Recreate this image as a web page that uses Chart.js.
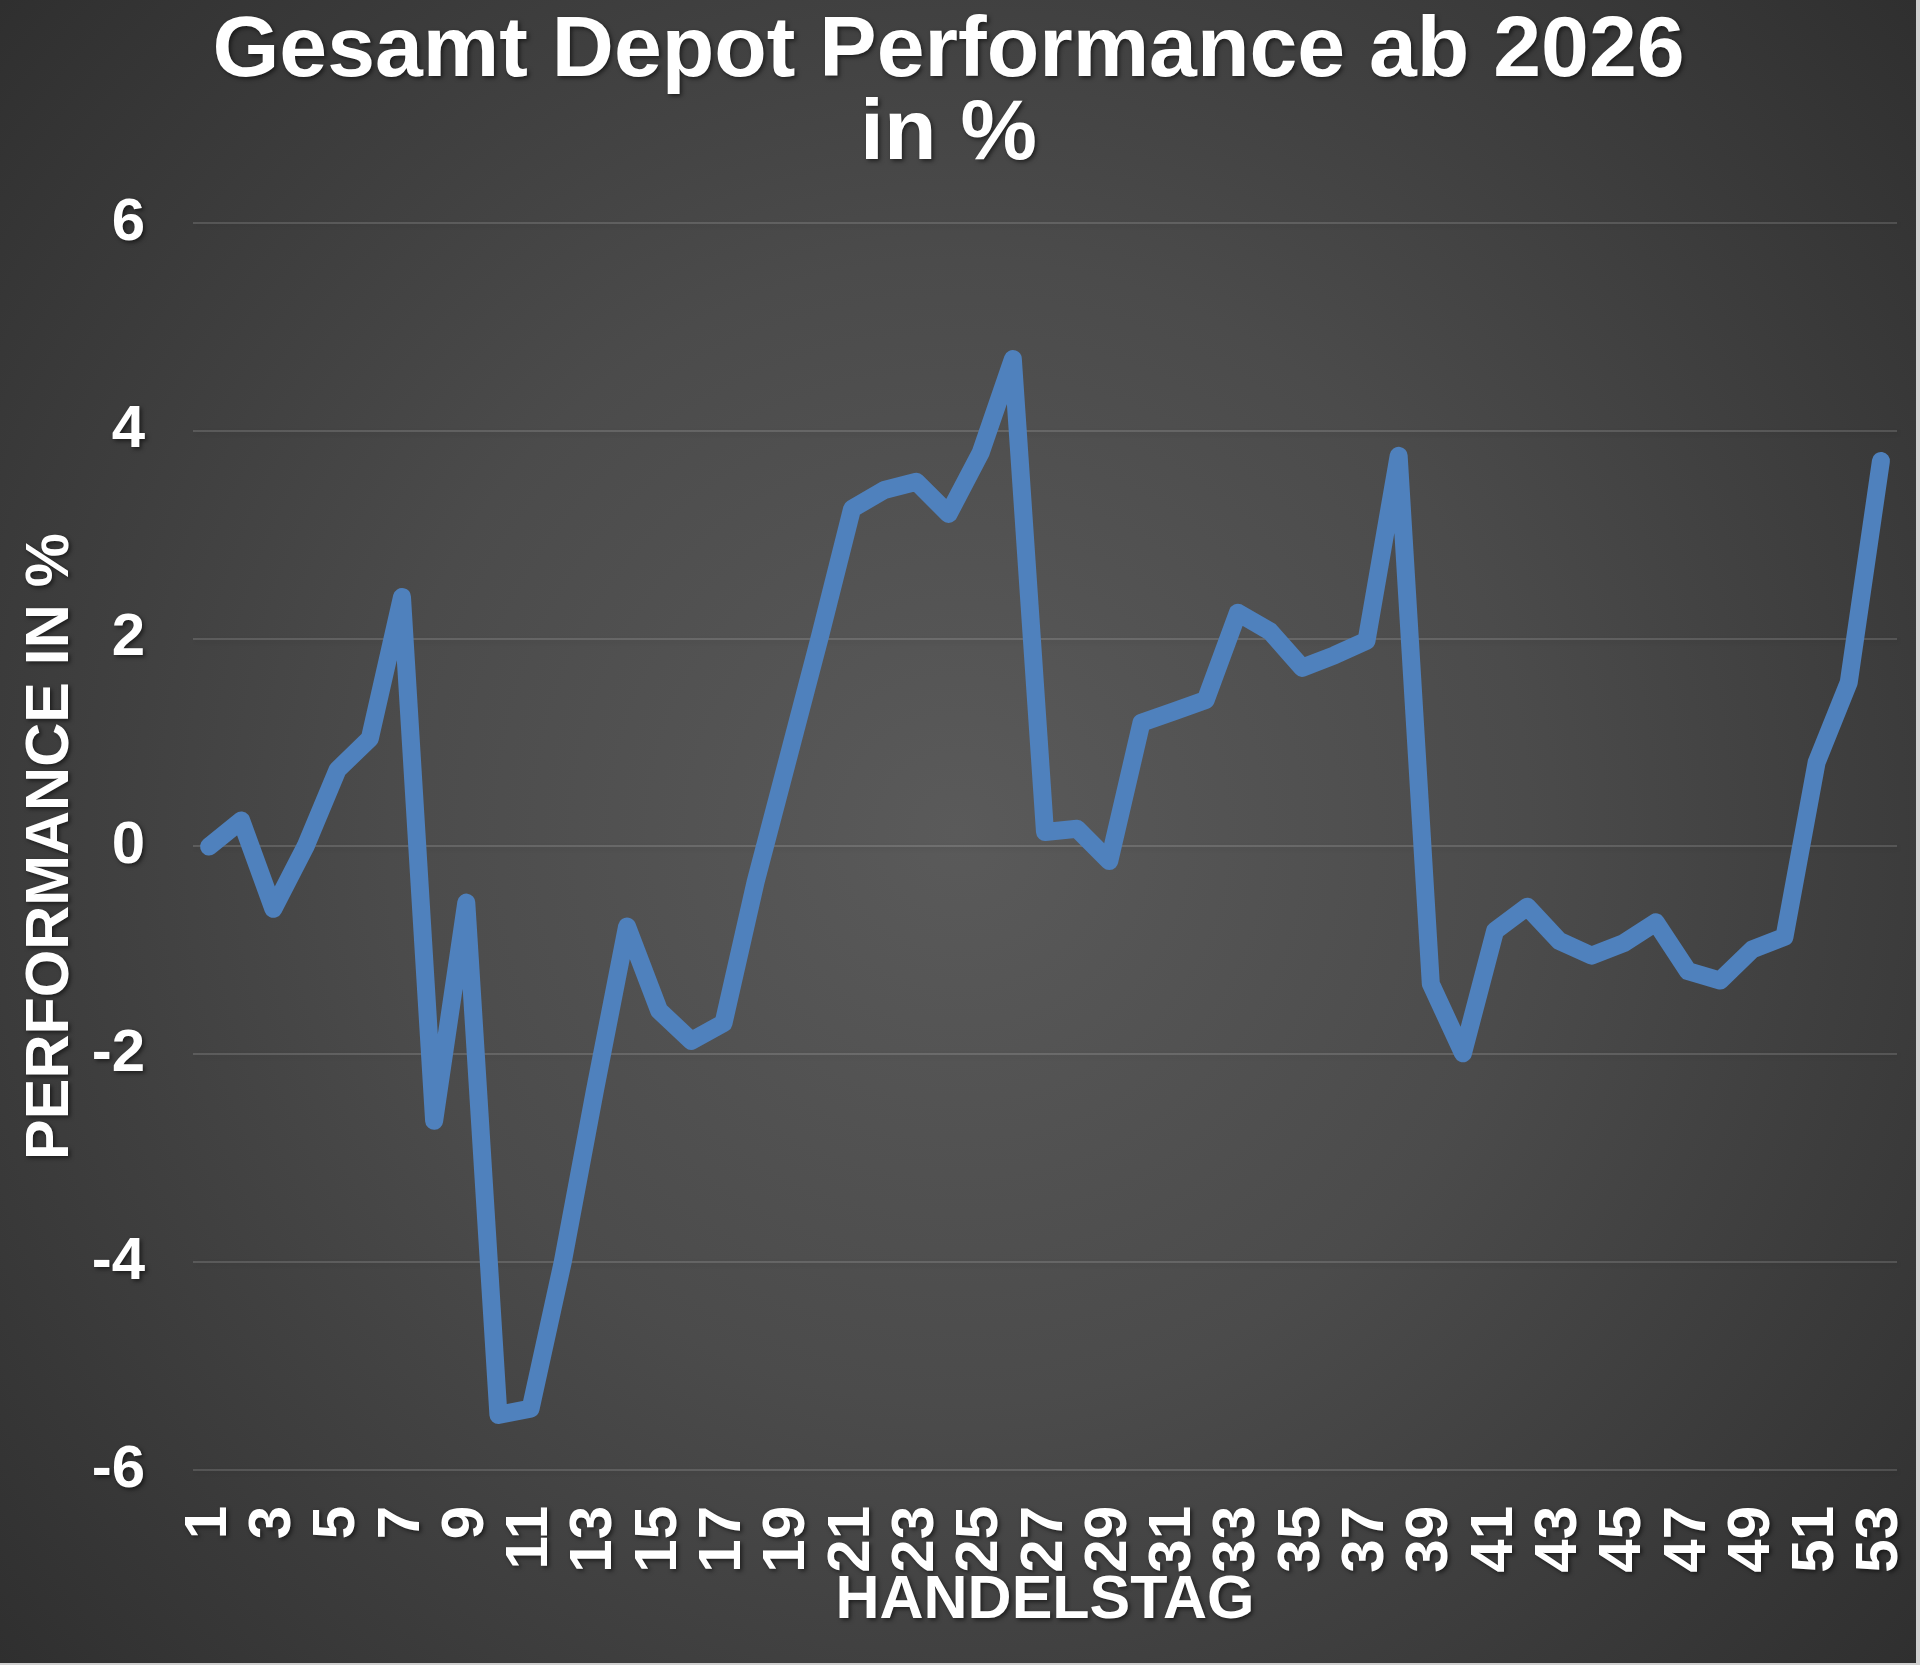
<!DOCTYPE html>
<html>
<head>
<meta charset="utf-8">
<script src="https://cdn.jsdelivr.net/npm/chart.js@4/dist/chart.umd.min.js"></script>
<style>
  html, body { margin: 0; padding: 0; }
  body { width: 1920px; height: 1665px; background: #d0d0d0; position: relative; overflow: hidden; }
  #hg {
    position: absolute; left: 0; top: 0; width: 1916px; height: 1663px;
    background: radial-gradient(circle farthest-corner at 50% 50%, #5a5a5a 0%, #4b4b4b 45%, #2f2f2f 100%);
  }
  #wrap { position: absolute; left: 0; top: 0; width: 1920px; height: 1665px; }
</style>
</head>
<body>
<div id="hg"></div>
<div id="wrap"><canvas id="chart"></canvas></div>
<script>
// Handelstage 1..53
var tage = [
  '1','2','3','4','5','6','7','8','9','10',
  '11','12','13','14','15','16','17','18','19','20',
  '21','22','23','24','25','26','27','28','29','30',
  '31','32','33','34','35','36','37','38','39','40',
  '41','42','43','44','45','46','47','48','49','50',
  '51','52','53'
];

// Gesamt Depot Performance in %
var performance = [
  0.0, 0.25, -0.6, 0.0, 0.74, 1.04, 2.4, -2.64, -0.54, -5.47,
  -5.41, -4.0, -2.35, -0.77, -1.58, -1.87, -1.70, -0.34, 0.84, 2.02,
  3.25, 3.43, 3.51, 3.2, 3.79, 4.69, 0.14, 0.17, -0.14, 1.19,
  1.3, 1.41, 2.25, 2.07, 1.72, 1.84, 1.98, 3.76, -1.32, -1.99,
  -0.81, -0.58, -0.91, -1.05, -0.93, -0.73, -1.20, -1.29, -0.99, -0.87,
  0.81, 1.58, 3.71
];

var yMin = -6, yMax = 6, yStep = 2;

var schrift = '"Liberation Sans", Arial, Helvetica, sans-serif';

// Schatten fuer Texte (vor den Daten)
var schatten = {
  id: 'schatten',
  beforeDraw: function(chart) {
    var ctx = chart.ctx;
    ctx.shadowColor = 'rgba(0,0,0,0.55)';
    ctx.shadowBlur = 4;
    ctx.shadowOffsetX = 2;
    ctx.shadowOffsetY = 2;
  },
  beforeDatasetsDraw: function(chart) {
    var ctx = chart.ctx;
    ctx.shadowColor = 'rgba(0,0,0,0)';
    ctx.shadowBlur = 0;
    ctx.shadowOffsetX = 0;
    ctx.shadowOffsetY = 0;
  }
};

var datos = {
  type: 'line',
  data: {
    labels: tage,
    datasets: [{
      data: performance,
      borderColor: '#4F81BD',
      backgroundColor: '#4F81BD',
      borderWidth: 18,
      borderJoinStyle: 'round',
      borderCapStyle: 'round',
      pointRadius: 0,
      tension: 0,
      fill: false
    }]
  },
  options: {
    responsive: true,
    maintainAspectRatio: false,
    animation: false,
    layout: { padding: { left: 0, right: 23, top: 0, bottom: 0 } },
    plugins: {
      legend: { display: false },
      tooltip: { enabled: false },
      title: {
        display: true,
        text: ['Gesamt Depot Performance ab 2026', 'in %'],
        color: '#ffffff',
        font: { family: schrift, size: 86, weight: 'bold', lineHeight: 0.965 },
        padding: { top: 11, bottom: 46 }
      }
    },
    scales: {
      x: {
        offset: true,
        border: { display: false },
        grid: { display: false, drawTicks: false },
        ticks: {
          color: '#ffffff',
          font: { family: schrift, size: 60, weight: 'bold' },
          autoSkip: false,
          minRotation: 90,
          maxRotation: 90,
          padding: 36,
          callback: function(val, index) {
            return index % 2 === 0 ? this.getLabelForValue(val) : '';
          }
        },
        title: {
          display: true,
          text: 'HANDELSTAG',
          color: '#ffffff',
          font: { family: schrift, size: 61, weight: 'bold', lineHeight: 1.2 },
          padding: { top: 2, bottom: 27 }
        },
        afterFit: function(scale) {
          scale.height = 195;
          scale.paddingLeft = 0;
          scale.paddingRight = 0;
        }
      },
      y: {
        min: yMin,
        max: yMax,
        border: { display: false },
        grid: { color: 'rgba(255,255,255,0.14)', lineWidth: 2, drawTicks: false },
        ticks: {
          stepSize: yStep,
          color: '#ffffff',
          font: { family: schrift, size: 60, weight: 'bold' },
          padding: 48
        },
        title: {
          display: true,
          text: 'PERFORMANCE IN %',
          color: '#ffffff',
          font: { family: schrift, size: 61, weight: 'bold', lineHeight: 1.2 },
          padding: { top: 15, bottom: 10 }
        },
        afterFit: function(scale) {
          scale.width = 193;
          scale.paddingTop = 0;
          scale.paddingBottom = 0;
        }
      }
    }
  },
  plugins: [schatten]
};

var canvas = document.getElementById('chart').getContext('2d');
window.linie = new Chart(canvas, datos);
</script>
</body>
</html>
